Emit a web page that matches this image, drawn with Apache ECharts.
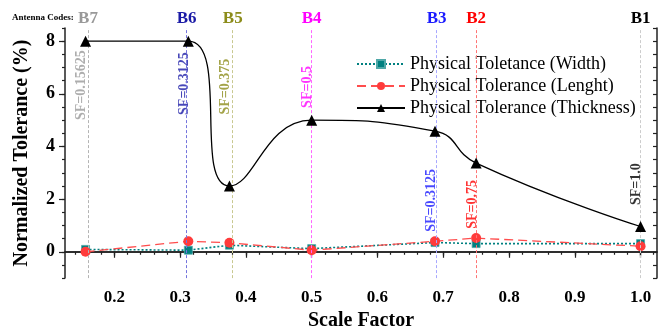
<!DOCTYPE html>
<html>
<head>
<meta charset="utf-8">
<script src="https://cdn.jsdelivr.net/npm/echarts@6/dist/echarts.min.js"></script>
<style>
html, body { margin: 0; padding: 0; background: #fff; }
#chart { width: 671px; height: 336px; }
</style>
</head>
<body>
<div id="chart"></div>
<script>
var scaleFactor = [0.15625, 0.3125, 0.375, 0.5, 0.6875, 0.75, 1.0];
var widthTol = [0.09, 0.06, 0.25, 0.12, 0.35, 0.31, 0.31];
var lengthTol = [0.0, 0.40, 0.34, 0.06, 0.40, 0.52, 0.21];
var thickTol = [8.0, 8.0, 2.5, 5.0, 4.58, 3.37, 0.96];

var antennaCodes = ['B7', 'B6', 'B5', 'B4', 'B3', 'B2', 'B1'];
var sfLabels = ['SF=0.15625', 'SF=0.3125', 'SF=0.375', 'SF=0.5', 'SF=0.3125', 'SF=0.75', 'SF=1.0'];
var sfLabelY = [6.33, 6.39, 6.27, 6.26, 1.95, 1.80, 2.57];

var xTickLabels = [0.2, 0.3, 0.4, 0.5, 0.6, 0.7, 0.8, 0.9, 1.0];
var yTickLabels = [0, 2, 4, 6, 8];

var codeColors = ['#999999', '#1a1aa6', '#8c8c1a', '#ff00ff', '#1a1aff', '#ff0000', '#000000'];
var dropColors = ['#b4b4b4', '#7474dd', '#c8c890', '#ff66ff', '#a8a8ff', '#ff7474', '#cccccc'];

var FONT = 'Liberation Serif';

// minor ticks on the bottom axis every 0.02
var xMinor = [];
for (var k = 7; k <= 51; k++) {
    xMinor.push(Math.round(k * 0.02 * 1000) / 1000);
}

var pts = function (ys) {
    var out = [];
    for (var i = 0; i < scaleFactor.length; i++) {
        out.push([scaleFactor[i], ys[i]]);
    }
    return out;
};

var dom = document.getElementById('chart');
var myChart = echarts.init(dom);

var axisLine = { show: true, lineStyle: { color: '#222', width: 1.5 } };

option = {
    animation: false,
    title: {
        text: 'Antenna Codes:',
        left: 12,
        top: 13,
        padding: 0,
        textStyle: { fontFamily: FONT, fontSize: 9, fontWeight: 'bold', color: '#000' }
    },
    grid: { left: 65, right: 14, top: 28, bottom: 52 },
    legend: {
        orient: 'vertical',
        left: 356,
        top: 55,
        padding: 0,
        itemWidth: 48,
        itemHeight: 10,
        itemGap: 4,
        data: ['Physical Toletance (Width)', 'Physical Tolerance (Lenght)', 'Physical Tolerance (Thickness)'],
        textStyle: { fontFamily: FONT, fontSize: 18, color: '#000', padding: [0, 0, 0, 0] }
    },
    xAxis: [
        {
            type: 'value',
            position: 'bottom',
            min: 0.125,
            max: 1.025,
            axisLine: axisLine,
            splitLine: { show: false },
            axisTick: { show: true, customValues: xMinor, length: 3, lineStyle: { color: '#222', width: 1.2 } },
            axisLabel: {
                customValues: xTickLabels,
                formatter: function (v) { return v.toFixed(1); },
                fontFamily: FONT, fontSize: 17, fontWeight: 'bold', color: '#000', margin: 11
            },
            name: 'Scale Factor',
            nameLocation: 'middle',
            nameGap: 32,
            nameTextStyle: { fontFamily: FONT, fontSize: 20, fontWeight: 'bold', color: '#000' }
        },
        {
            type: 'value',
            position: 'bottom',
            min: 0.125,
            max: 1.025,
            axisLine: { show: false },
            splitLine: { show: false },
            axisTick: { show: true, customValues: xTickLabels, length: 6, lineStyle: { color: '#222', width: 1.2 } },
            axisLabel: { show: false }
        },
        {
            type: 'value',
            position: 'top',
            min: 0.125,
            max: 1.025,
            axisLine: axisLine,
            splitLine: { show: false },
            axisTick: { show: true, inside: true, customValues: xTickLabels, length: 4, lineStyle: { color: '#222', width: 1.2 } },
            axisLabel: { show: false }
        }
    ],
    yAxis: [
        {
            type: 'value',
            position: 'left',
            min: -1,
            max: 8.5,
            interval: 0.5,
            axisLine: axisLine,
            splitLine: { show: false },
            axisTick: { show: true, length: 3, lineStyle: { color: '#222', width: 1.2 } },
            axisLabel: {
                customValues: yTickLabels,
                fontFamily: FONT, fontSize: 18, fontWeight: 'bold', color: '#000', margin: 10
            },
            name: 'Normalized Tolerance (%)',
            nameLocation: 'middle',
            nameGap: 33,
            nameTextStyle: { fontFamily: FONT, fontSize: 20, fontWeight: 'bold', color: '#000' }
        },
        {
            type: 'value',
            position: 'left',
            min: -1,
            max: 8.5,
            axisLine: { show: false },
            splitLine: { show: false },
            axisTick: { show: true, customValues: yTickLabels, length: 6, lineStyle: { color: '#222', width: 1.2 } },
            axisLabel: { show: false }
        },
        {
            type: 'value',
            position: 'right',
            min: -1,
            max: 8.5,
            interval: 0.5,
            axisLine: axisLine,
            splitLine: { show: false },
            axisTick: { show: true, inside: true, length: 4, lineStyle: { color: '#222', width: 1.2 } },
            axisLabel: { show: false }
        }
    ],
    series: [
        {
            name: 'annotations',
            type: 'scatter',
            symbolSize: 0,
            silent: true,
            z: 1,
            data: scaleFactor.map(function (x, i) {
                return {
                    value: [x, sfLabelY[i]],
                    label: { formatter: sfLabels[i], color: codeColors[i] }
                };
            }),
            label: {
                show: true,
                position: 'inside',
                rotate: 90,
                offset: [0, -4],  // rotated frame: moves the text left of its drop line
                fontFamily: FONT, fontSize: 14, fontWeight: 'bold'
            },
            markLine: {
                silent: true,
                symbol: ['none', 'none'],
                animation: false,
                lineStyle: { type: [3, 2], width: 1 },
                label: {
                    show: true,
                    position: 'end',
                    distance: 1,
                    fontFamily: FONT, fontSize: 17, fontWeight: 'bold'
                },
                data: scaleFactor.map(function (x, i) {
                    return {
                        xAxis: x,
                        lineStyle: { color: dropColors[i] },
                        label: { formatter: antennaCodes[i], color: codeColors[i] }
                    };
                })
            }
        },
        {
            name: 'Physical Toletance (Width)',
            type: 'line',
            data: pts(widthTol),
            symbol: 'rect',
            symbolSize: 8,
            z: 3,
            itemStyle: { color: '#008080', borderColor: '#4fa8a8', borderWidth: 0.8 },
            lineStyle: { color: '#008080', width: 1.6, type: [2, 2] }
        },
        {
            name: 'Physical Tolerance (Lenght)',
            type: 'line',
            data: pts(lengthTol),
            symbol: 'circle',
            symbolSize: 10,
            z: 4,
            itemStyle: { color: '#ff3b3b' },
            lineStyle: { color: '#ff4d4d', width: 1.3, type: [9, 5] }
        },
        {
            name: 'Physical Tolerance (Thickness)',
            type: 'line',
            data: pts(thickTol),
            smooth: 0.5,
            symbol: 'triangle',
            symbolSize: 11,
            z: 5,
            itemStyle: { color: '#000' },
            lineStyle: { color: '#000', width: 1.3 }
        }
    ]
};

if (option && typeof option === "object") {
    myChart.setOption(option, true);
}
</script>
</body>
</html>
